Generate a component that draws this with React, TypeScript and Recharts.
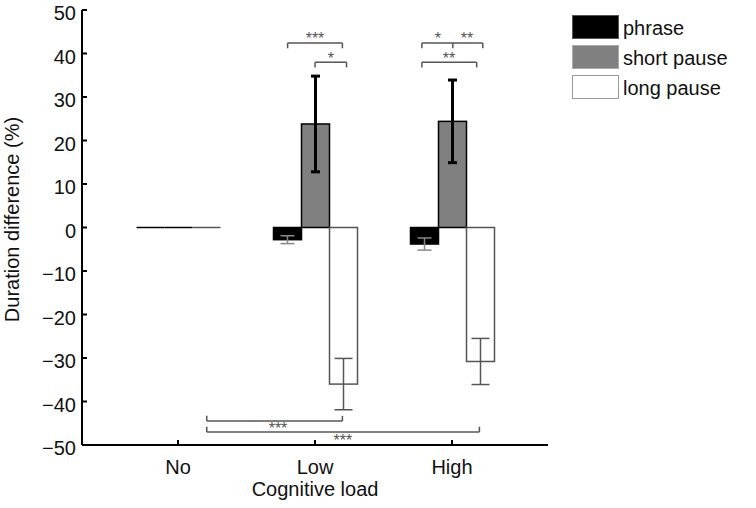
import { ComposedChart, Bar, XAxis, YAxis, ErrorBar, ReferenceLine, ReferenceDot } from "recharts"

const categories = ["No", "Low", "High"]
const seriesNames = ["phrase", "short pause", "long pause"]

const phrase = [0, -2.8, -3.8]
const phraseErr = [null, 0.9, 1.4]
const shortPause = [0, 23.8, 24.4]
const shortPauseErr = [null, 11.0, 9.5]
const longPause = [0, -36.0, -30.8]
const longPauseErr = [null, 5.9, 5.3]

const yTicks = [-50, -40, -30, -20, -10, 0, 10, 20, 30, 40, 50]

// significance brackets, x on the 1..3 category scale (bar offsets ±0.2)
const brackets = [
  { from: 1.8, to: 2.2, y: 42.4, mid: null, dir: -1 },
  { from: 2.0, to: 2.23, y: 38.0, mid: null, dir: -1 },
  { from: 2.78, to: 3.225, y: 42.4, mid: 3.006, dir: -1 },
  { from: 2.78, to: 3.18, y: 38.0, mid: null, dir: -1 },
  { from: 1.21, to: 2.2, y: -44.5, mid: null, dir: 1 },
  { from: 1.21, to: 3.2, y: -47.0, mid: null, dir: 1 },
]
const stars = [
  { x: 2.0, y: 43.4, text: "***" },
  { x: 2.116, y: 39.0, text: "*" },
  { x: 2.897, y: 43.4, text: "*" },
  { x: 3.109, y: 43.4, text: "**" },
  { x: 2.978, y: 39.0, text: "**" },
  { x: 1.73, y: -46.2, text: "***" },
  { x: 2.204, y: -48.9, text: "***" },
]

const data = categories.map((name, i) => ({
  name,
  pos: i + 1,
  phrase: phrase[i],
  phraseErr: phraseErr[i],
  shortPause: shortPause[i],
  shortPauseErr: shortPauseErr[i],
  longPause: longPause[i],
  longPauseErr: longPauseErr[i],
}))

const FONT = "'Liberation Sans', Arial, Helvetica, sans-serif"
const fills = ["#000000", "#808080", "#ffffff"]
const strokes = ["#000000", "#000000", "#555555"]
const legendBorders = ["#555555", "#aaaaaa", "#999999"]

const BarShape = (props: any) => {
  let { x, y, width, height } = props
  const { fill, stroke, strokeWidth } = props
  if (!height) {
    return <line x1={x} x2={x + width} y1={y} y2={y} stroke={stroke} strokeWidth={strokeWidth} />
  }
  if (height < 0) {
    y = y + height
    height = -height
  }
  return <rect x={x} y={y} width={width} height={height} fill={fill} stroke={stroke} strokeWidth={strokeWidth} />
}

const YTick = (props: any) => {
  const { x, y, payload } = props
  const v = payload.value
  const label = v < 0 ? `\u2212${Math.abs(v)}` : `${v}`
  return (
    <text x={x} y={y} dy={10} textAnchor="end" fontSize={20} fontFamily={FONT} fill="#111">
      {label}
    </text>
  )
}

const XTick = (props: any) => {
  const { x, y, payload } = props
  return (
    <text x={x} y={y} dy={14} textAnchor="middle" fontSize={20} fontFamily={FONT} fill="#111">
      {payload.value}
    </text>
  )
}

export default function App() {
  return (
    <div style={{ position: "absolute", left: 0, top: 0, width: 756, height: 508, background: "#fff" }}>
      <ComposedChart
        width={756}
        height={508}
        data={data}
        margin={{ top: 10, right: 208, bottom: 0, left: 0 }}
        barGap={0}
        barSize={28}
      >
        <XAxis
          dataKey="name"
          height={63}
          padding={{ left: 27.5, right: 27.5 }}
          tickSize={-5}
          tickMargin={20}
          tick={<XTick />}
          axisLine={{ stroke: "#000", strokeWidth: 2 }}
          tickLine={{ stroke: "#000", strokeWidth: 2 }}
          label={{
            value: "Cognitive load",
            position: "insideBottom",
            offset: 12,
            fontSize: 20,
            fontFamily: FONT,
            fill: "#111",
          }}
        />
        <XAxis
          xAxisId="top"
          dataKey="name"
          orientation="top"
          height={0}
          padding={{ left: 27.5, right: 27.5 }}
          tickSize={-5}
          tick={false}
          axisLine={{ stroke: "#000", strokeWidth: 2 }}
          tickLine={{ stroke: "#000", strokeWidth: 2 }}
        />
        <XAxis
          xAxisId="n"
          dataKey="pos"
          type="number"
          domain={["dataMin", "dataMax"]}
          padding={{ left: 96, right: 96 }}
          hide
        />
        <YAxis
          width={82}
          domain={[-50, 50]}
          ticks={yTicks}
          interval={0}
          tickSize={-5}
          tickMargin={11}
          tick={<YTick />}
          axisLine={{ stroke: "#000", strokeWidth: 2 }}
          tickLine={{ stroke: "#000", strokeWidth: 2 }}
          label={{
            content: (p: any) => {
              const vb = p.viewBox
              const cx = vb.x + 12
              const cy = vb.y + vb.height / 2 - 8
              return (
                <text
                  x={cx}
                  y={cy}
                  transform={`rotate(-90 ${cx} ${cy})`}
                  textAnchor="middle"
                  dominantBaseline="central"
                  fontSize={20}
                  fontFamily={FONT}
                  fill="#111"
                >
                  Duration difference (%)
                </text>
              )
            },
          }}
        />
        <YAxis
          yAxisId="r"
          orientation="right"
          width={0}
          domain={[-50, 50]}
          ticks={yTicks}
          interval={0}
          tickSize={-5}
          tick={false}
          axisLine={{ stroke: "#000", strokeWidth: 2 }}
          tickLine={{ stroke: "#000", strokeWidth: 2 }}
        />

        <Bar dataKey="phrase" fill={fills[0]} stroke={strokes[0]} strokeWidth={1.5} shape={BarShape} isAnimationActive={false}>
          <ErrorBar dataKey="phraseErr" width={7} stroke="#888" strokeWidth={1.5} isAnimationActive={false} />
        </Bar>
        <Bar dataKey="shortPause" fill={fills[1]} stroke={strokes[1]} strokeWidth={1.5} shape={BarShape} isAnimationActive={false}>
          <ErrorBar dataKey="shortPauseErr" width={4.5} stroke="#000" strokeWidth={3} isAnimationActive={false} />
        </Bar>
        <Bar dataKey="longPause" fill={fills[2]} stroke={strokes[2]} strokeWidth={1.5} shape={BarShape} isAnimationActive={false}>
          <ErrorBar dataKey="longPauseErr" width={9} stroke="#555" strokeWidth={1.5} isAnimationActive={false} />
        </Bar>

        {brackets.map((b, i) => [
          <ReferenceLine
            key={`b${i}`}
            xAxisId="n"
            ifOverflow="visible"
            segment={[{ x: b.from, y: b.y }, { x: b.to, y: b.y }]}
            stroke="#555"
            strokeWidth={1.5}
          />,
          <ReferenceLine
            key={`l${i}`}
            xAxisId="n"
            ifOverflow="visible"
            segment={[{ x: b.from, y: b.y }, { x: b.from, y: b.y + b.dir * 1.2 }]}
            stroke="#555"
            strokeWidth={1.5}
          />,
          <ReferenceLine
            key={`r${i}`}
            xAxisId="n"
            ifOverflow="visible"
            segment={[{ x: b.to, y: b.y }, { x: b.to, y: b.y + b.dir * 1.2 }]}
            stroke="#555"
            strokeWidth={1.5}
          />,
          b.mid != null ? (
            <ReferenceLine
              key={`m${i}`}
              xAxisId="n"
              ifOverflow="visible"
              segment={[{ x: b.mid, y: b.y }, { x: b.mid, y: b.y + b.dir * 1.2 }]}
              stroke="#555"
              strokeWidth={1.5}
            />
          ) : null,
        ])}
        {stars.map((s, i) => (
          <ReferenceDot
            key={`s${i}`}
            xAxisId="n"
            ifOverflow="visible"
            x={s.x}
            y={s.y}
            r={0}
            stroke="none"
            label={{ value: s.text, position: "center", fontSize: 16, fill: "#555", fontFamily: FONT }}
          />
        ))}
      </ComposedChart>

      <div style={{ position: "absolute", left: 572, top: 12, fontFamily: FONT, fontSize: 20, color: "#111" }}>
        {seriesNames.map((n, i) => (
          <div key={n} style={{ display: "flex", alignItems: "center", height: 30 }}>
            <span
              style={{
                display: "inline-block",
                width: 45,
                height: 22,
                background: fills[i],
                border: `1px solid ${legendBorders[i]}`,
                marginRight: 4,
              }}
            />
            <span style={{ paddingTop: 3 }}>{n}</span>
          </div>
        ))}
      </div>
    </div>
  )
}
